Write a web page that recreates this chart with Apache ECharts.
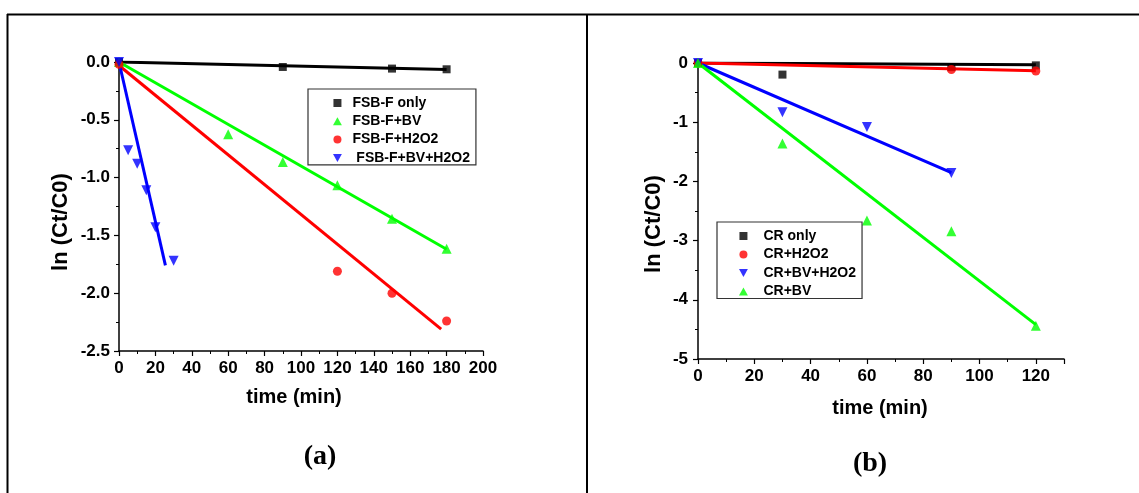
<!DOCTYPE html>
<html>
<head>
<meta charset="utf-8">
<script src="https://cdn.jsdelivr.net/npm/echarts@6/dist/echarts.min.js"></script>
<style>html,body{margin:0;padding:0;background:#fff}#c{width:1139px;height:493px}</style>
</head>
<body>
<div id="c"></div>
<script>
// ---- Panel (a): FSB-F ----
const aOnly   = [[0,0],[90,-0.043],[150,-0.057],[180,-0.063]];
const aBV     = [[0,0],[60,-0.625],[90,-0.865],[120,-1.067],[150,-1.355],[180,-1.615]];
const aH2O2   = [[0,-0.02],[120,-1.81],[150,-2.0],[180,-2.24]];
const aBVH2O2 = [[0,0],[5,-0.764],[10,-0.88],[15,-1.11],[20,-1.43],[30,-1.72]];
// fitted lines (a)
const aFitOnly   = [[0,0],[180,-0.065]];
const aFitBV     = [[0,0],[180,-1.62]];
const aFitH2O2   = [[0,-0.03],[177,-2.31]];
const aFitBVH2O2 = [[0,0],[25.5,-1.76]];
const aXTicks = {min:0,max:200,interval:20};
const aYTicks = {min:-2.5,max:0,interval:0.5};

// ---- Panel (b): CR ----
const bOnly   = [[0,0],[30,-0.196],[90,-0.07],[120,-0.04]];
const bH2O2   = [[0,0],[90,-0.11],[120,-0.135]];
const bBVH2O2 = [[0,0],[30,-0.83],[60,-1.08],[90,-1.86]];
const bBV     = [[0,0],[30,-1.36],[60,-2.66],[90,-2.84],[120,-4.44]];
const bFitOnly   = [[0,0],[120,-0.03]];
const bFitH2O2   = [[0,0],[120,-0.13]];
const bFitBVH2O2 = [[0,0],[90,-1.85]];
const bFitBV     = [[0,0],[120,-4.42]];
const bXTicks = {min:0,max:130,interval:20,lastLabel:120};
const bYTicks = {min:-5,max:0,interval:1};

const namesA = ['FSB-F only','FSB-F+BV','FSB-F+H2O2',' FSB-F+BV+H2O2'];
const namesB = ['CR only','CR+H2O2','CR+BV+H2O2','CR+BV'];

const BLACK='#000000', GREEN='#00ff00', RED='#ff0000', BLUE='#0000ff';
const FONT='Liberation Sans, Arial, sans-serif';
const SERIF='Liberation Serif, Times New Roman, serif';
const SQ='path://M0,0L10,0L10,10L0,10Z';
const UP='path://M5,0L10,9L0,9Z';
const DOWN='path://M0,0L10,0L5,9Z';

function xAxisCfg(idx, t, fs, margin){
  const last = t.lastLabel !== undefined ? t.lastLabel : t.max;
  return {
    type:'value', gridIndex:idx, min:t.min, max:t.max, interval:t.interval,
    axisLine:{show:true,onZero:false,lineStyle:{color:'#000',width:1.5}},
    axisTick:{show:true,inside:false,length:5,lineStyle:{color:'#000',width:1.2}},
    minorTick:{show:true,splitNumber:2,length:3,lineStyle:{color:'#000',width:1}},
    splitLine:{show:false},
    axisLabel:{color:'#000',fontFamily:FONT,fontWeight:'bold',fontSize:fs,margin:margin,
      formatter:function(v){return v>last?'':String(v);}}
  };
}
function yAxisCfg(idx, t, fs, margin, dec){
  return {
    type:'value', gridIndex:idx, min:t.min, max:t.max, interval:t.interval,
    axisLine:{show:true,onZero:false,lineStyle:{color:'#000',width:1.5}},
    axisTick:{show:true,inside:false,length:5,lineStyle:{color:'#000',width:1.2}},
    minorTick:{show:true,splitNumber:2,length:3,lineStyle:{color:'#000',width:1}},
    splitLine:{show:false},
    axisLabel:{color:'#000',fontFamily:FONT,fontWeight:'bold',fontSize:fs,margin:margin,
      formatter:function(v){return dec?v.toFixed(1):String(Math.round(v));}}
  };
}
function fit(data,color,xi){
  return {type:'line',data:data,xAxisIndex:xi,yAxisIndex:xi,showSymbol:false,symbol:'none',
    lineStyle:{color:color,width:3},silent:true,z:2,animation:false};
}
function pts(name,data,color,symbol,size,xi){
  return {type:'scatter',name:name,data:data,xAxisIndex:xi,yAxisIndex:xi,symbol:symbol,
    symbolSize:size,itemStyle:{color:color},z:3,animation:false};
}

const legendCommon = {
  orient:'vertical', borderColor:'#333', borderWidth:1.2, backgroundColor:'#fff',
  itemHeight:8, symbolKeepAspect:true,
  textStyle:{color:'#000',fontFamily:FONT,fontWeight:'bold',fontSize:14,lineHeight:14},
  selectedMode:false
};

const option = {
  animation:false,
  backgroundColor:'#fff',
  grid:[
    {left:119,top:62,width:364,height:289},
    {left:698,top:63,width:366,height:296}
  ],
  xAxis:[xAxisCfg(0,aXTicks,17,9), xAxisCfg(1,bXTicks,17,9)],
  yAxis:[yAxisCfg(0,aYTicks,17,9,true), yAxisCfg(1,bYTicks,17,10,false)],
  legend:[
    Object.assign({}, legendCommon, {left:308, top:89, itemWidth:20, itemGap:4.3, padding:[7,6,0,25],
      data:[{name:namesA[0],icon:SQ},{name:namesA[1],icon:UP},{name:namesA[2],icon:'circle'},{name:namesA[3],icon:DOWN}]}),
    Object.assign({}, legendCommon, {left:717, top:222, itemWidth:30, itemGap:4.5, padding:[7,6,0,22],
      data:[{name:namesB[0],icon:SQ},{name:namesB[1],icon:'circle'},{name:namesB[2],icon:DOWN},{name:namesB[3],icon:UP}]})
  ],
  series:[
    fit(aFitOnly,BLACK,0), fit(aFitBV,GREEN,0), fit(aFitH2O2,RED,0), fit(aFitBVH2O2,BLUE,0),
    pts(namesA[0],aOnly,BLACK,'rect',8,0),
    pts(namesA[1],aBV,GREEN,'triangle',10,0),
    pts(namesA[2],aH2O2,RED,'circle',9,0),
    pts(namesA[3],aBVH2O2,BLUE,DOWN,10,0),
    fit(bFitOnly,BLACK,1), fit(bFitH2O2,RED,1), fit(bFitBVH2O2,BLUE,1), fit(bFitBV,GREEN,1),
    pts(namesB[0],bOnly,BLACK,'rect',8,1),
    pts(namesB[1],bH2O2,RED,'circle',9,1),
    pts(namesB[2],bBVH2O2,BLUE,DOWN,10,1),
    pts(namesB[3],bBV,GREEN,'triangle',10,1)
  ],
  graphic:[
    {type:'line',shape:{x1:7,y1:14.5,x2:1139,y2:14.5},style:{stroke:'#000',lineWidth:2}},
    {type:'line',shape:{x1:7.5,y1:14,x2:7.5,y2:493},style:{stroke:'#000',lineWidth:2}},
    {type:'line',shape:{x1:587,y1:14,x2:587,y2:493},style:{stroke:'#000',lineWidth:2}},
    {type:'text',x:294,y:397,style:{text:'time (min)',fill:'#000',font:'bold 20px '+FONT,align:'center',verticalAlign:'middle'}},
    {type:'text',x:880,y:408,style:{text:'time (min)',fill:'#000',font:'bold 20px '+FONT,align:'center',verticalAlign:'middle'}},
    {type:'text',x:61,y:222,rotation:Math.PI/2,style:{text:'ln (Ct/C0)',fill:'#000',font:'bold 22px '+FONT,align:'center',verticalAlign:'middle'}},
    {type:'text',x:654,y:224,rotation:Math.PI/2,style:{text:'ln (Ct/C0)',fill:'#000',font:'bold 22px '+FONT,align:'center',verticalAlign:'middle'}},
    {type:'text',x:320,y:457,style:{text:'(a)',fill:'#000',font:'bold 28px '+SERIF,align:'center',verticalAlign:'middle'}},
    {type:'text',x:870,y:464,style:{text:'(b)',fill:'#000',font:'bold 28px '+SERIF,align:'center',verticalAlign:'middle'}}
  ]
};
const chart = echarts.init(document.getElementById('c'), null, {renderer:'canvas'});
chart.setOption(option);
</script>
</body>
</html>
